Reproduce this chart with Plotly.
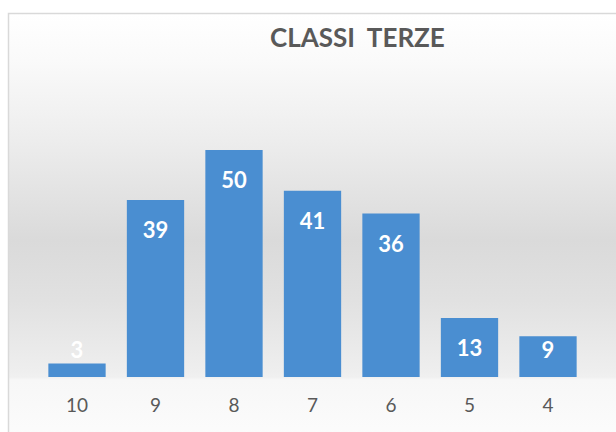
import base64
import numpy as np
import plotly.graph_objects as go

categories = ["10", "9", "8", "7", "6", "5", "4"]
values = [3, 39, 50, 41, 36, 13, 9]
title_text = "CLASSI  TERZE"

W, H = 616, 432

# background gradient (chart area) as an SVG image
top, rect_h = 13.5, H + 20
stops = [(13.5, "#ffffff"), (60, "#fafafa"), (140, "#ededed"), (240, "#dadada"),
         (300, "#e1e1e1"), (370, "#eeeeee"), (377, "#f0f0f0"), (380, "#f7f7f7"),
         (440, "#fcfcfc")]
stop_xml = "".join(f'<stop offset="{(y - top) / rect_h:.4f}" stop-color="{c}"/>' for y, c in stops)
svg = f'''<svg xmlns="http://www.w3.org/2000/svg" width="{W}" height="{H}">
<defs><linearGradient id="g" x1="0" y1="0" x2="0" y2="1">{stop_xml}</linearGradient></defs>
<rect x="0" y="0" width="{W}" height="{H}" fill="#ffffff"/>
<rect x="8.5" y="{top}" width="{W + 20}" height="{rect_h}" fill="url(#g)" stroke="#d9d9d9" stroke-width="1.5"/>
</svg>'''
bg_src = "data:image/svg+xml;base64," + base64.b64encode(svg.encode()).decode()

y_max = 55
px_per_unit = 4.54
vals = np.array(values, dtype=float)
# label positions: inside end, clamped for short bars
label_y = np.maximum(vals - 7.2, 5.3)

fig = go.Figure()
fig.add_trace(go.Bar(
    x=categories, y=values,
    marker=dict(color="#4a8ed1", line=dict(width=0)),
    width=0.73,
    hoverinfo="skip",
))
fig.add_trace(go.Scatter(
    x=categories, y=label_y, mode="text",
    text=[str(v) for v in values],
    textfont=dict(family="Lato", size=22, color="#ffffff", weight="bold"),
    textposition="middle center",
    hoverinfo="skip",
))

fig.update_layout(
    width=W, height=H,
    margin=dict(l=0, r=0, t=0, b=0),
    paper_bgcolor="rgba(0,0,0,0)",
    plot_bgcolor="rgba(0,0,0,0)",
    showlegend=False,
    images=[dict(source=bg_src, xref="paper", yref="paper", x=0, y=1,
                 sizex=1, sizey=1, sizing="stretch", layer="below",
                 xanchor="left", yanchor="top")],
    xaxis=dict(domain=[37.75 / W, 587.25 / W], showgrid=False, zeroline=False,
               showline=False, ticks="", ticklabelstandoff=15,
               tickfont=dict(family="Lato", size=19, color="#595959"),
               fixedrange=True),
    yaxis=dict(domain=[55 / H, (55 + y_max * px_per_unit) / H], range=[0, y_max],
               showgrid=False, zeroline=False, showticklabels=False,
               fixedrange=True),
    annotations=[dict(text=f"<b>{title_text}</b>", xref="paper", yref="paper",
                      x=357 / W, y=(H - 37) / H, xanchor="center", yanchor="middle",
                      showarrow=False,
                      font=dict(family="Lato", size=26, color="#595959"))],
)
fig.write_html("out.html", config={"displayModeBar": False},
               post_script="document.body.style.margin='0';")
